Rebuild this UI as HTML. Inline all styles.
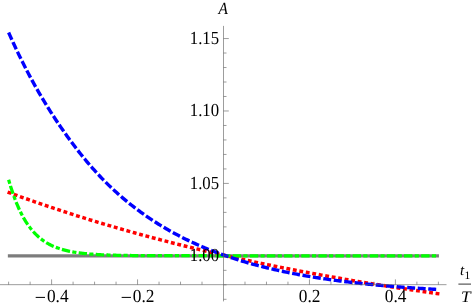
<!DOCTYPE html>
<html><head><meta charset="utf-8"><title>plot</title>
<style>
html,body{margin:0;padding:0;background:#fff;}
body{width:474px;height:306px;overflow:hidden;font-family:"Liberation Serif",serif;}
svg{display:block;will-change:transform;}
</style></head><body>
<svg width="474" height="306" viewBox="0 0 474 306">
<rect width="474" height="306" fill="#fff"/>
<g fill="none" stroke-width="3.25" stroke-linecap="butt" stroke-linejoin="round">
<path d="M7.85 255.75 L438.95 255.75" stroke="#7c7c7c"/>
<path d="M7.60 192.06 L10.62 193.17 L13.64 194.28 L16.66 195.37 L19.68 196.46 L22.70 197.55 L25.72 198.62 L28.74 199.69 L31.76 200.75 L34.78 201.80 L37.80 202.84 L40.82 203.88 L43.83 204.91 L46.85 205.94 L49.87 206.95 L52.89 207.96 L55.91 208.97 L58.93 209.96 L61.95 210.95 L64.97 211.94 L67.99 212.91 L71.01 213.88 L74.03 214.85 L77.05 215.80 L80.07 216.75 L83.09 217.70 L86.11 218.63 L89.13 219.56 L92.15 220.49 L95.17 221.41 L98.19 222.32 L101.21 223.22 L104.23 224.12 L107.25 225.02 L110.27 225.90 L113.29 226.79 L116.30 227.66 L119.32 228.53 L122.34 229.39 L125.36 230.25 L128.38 231.10 L131.40 231.95 L134.42 232.79 L137.44 233.62 L140.46 234.45 L143.48 235.27 L146.50 236.09 L149.52 236.90 L152.54 237.71 L155.56 238.51 L158.58 239.31 L161.60 240.10 L164.62 240.88 L167.64 241.66 L170.66 242.43 L173.68 243.20 L176.70 243.97 L179.72 244.72 L182.74 245.48 L185.76 246.23 L188.77 246.97 L191.79 247.71 L194.81 248.44 L197.83 249.17 L200.85 249.89 L203.87 250.61 L206.89 251.32 L209.91 252.03 L212.93 252.73 L215.95 253.43 L218.97 254.12 L221.99 254.81 L225.01 255.50 L228.03 256.18 L231.05 256.85 L234.07 257.52 L237.09 258.19 L240.11 258.85 L243.13 259.51 L246.15 260.16 L249.17 260.81 L252.19 261.45 L255.21 262.09 L258.23 262.73 L261.24 263.36 L264.26 263.98 L267.28 264.60 L270.30 265.22 L273.32 265.84 L276.34 266.44 L279.36 267.05 L282.38 267.65 L285.40 268.25 L288.42 268.84 L291.44 269.43 L294.46 270.01 L297.48 270.60 L300.50 271.17 L303.52 271.75 L306.54 272.31 L309.56 272.88 L312.58 273.44 L315.60 274.00 L318.62 274.55 L321.64 275.10 L324.66 275.65 L327.68 276.19 L330.70 276.73 L333.71 277.27 L336.73 277.80 L339.75 278.32 L342.77 278.85 L345.79 279.37 L348.81 279.89 L351.83 280.40 L354.85 280.91 L357.87 281.42 L360.89 281.92 L363.91 282.42 L366.93 282.92 L369.95 283.41 L372.97 283.90 L375.99 284.39 L379.01 284.87 L382.03 285.35 L385.05 285.83 L388.07 286.30 L391.09 286.77 L394.11 287.24 L397.13 287.70 L400.15 288.16 L403.17 288.62 L406.18 289.07 L409.20 289.52 L412.22 289.97 L415.24 290.42 L418.26 290.86 L421.28 291.30 L424.30 291.73 L427.32 292.17 L430.34 292.60 L433.36 293.02 L436.38 293.45 L439.40 293.87" stroke="#ff0000" stroke-width="3.5" stroke-dasharray="3.866 2.711"/>
<path d="M8.62 179.69 L9.63 183.15 L10.63 186.46 L11.63 189.61 L12.63 192.62 L13.63 195.50 L14.63 198.24 L15.63 200.85 L16.63 203.35 L17.63 205.74 L18.63 208.01 L19.63 210.19 L20.64 212.26 L21.64 214.24 L22.64 216.13 L23.64 217.93 L24.64 219.65 L25.64 221.30 L26.64 222.86 L27.64 224.36 L28.64 225.79 L29.64 227.15 L30.64 228.45 L31.65 229.70 L32.65 230.88 L33.65 232.01 L34.65 233.09 L35.65 234.13 L36.65 235.11 L37.65 236.05 L38.65 236.95 L39.65 237.80 L40.65 238.62 L41.65 239.40 L42.65 240.14 L43.66 240.85 L44.66 241.53 L45.66 242.18 L46.66 242.80 L47.66 243.38 L48.66 243.95 L49.66 244.48 L50.66 245.00 L51.66 245.49 L52.66 245.95 L53.66 246.40 L54.67 246.83 L55.67 247.23 L56.67 247.62 L57.67 247.99 L58.67 248.34 L59.67 248.68 L60.67 249.00 L61.67 249.31 L62.67 249.60 L63.67 249.88 L64.67 250.15 L65.68 250.40 L66.68 250.65 L67.68 250.88 L68.68 251.10 L69.68 251.31 L70.68 251.51 L71.68 251.71 L72.68 251.89 L73.68 252.07 L74.68 252.23 L75.68 252.39 L76.68 252.55 L77.69 252.69 L78.69 252.83 L79.69 252.96 L80.69 253.09 L81.69 253.21 L82.69 253.33 L83.69 253.44 L84.69 253.54 L85.69 253.64 L86.69 253.74 L87.69 253.83 L88.70 253.92 L89.70 254.00 L90.70 254.08 L91.70 254.16 L92.70 254.23 L93.70 254.30 L94.70 254.37 L95.70 254.43 L96.70 254.49 L97.70 254.55 L98.70 254.60 L99.70 254.65 L100.71 254.70 L101.71 254.75 L102.71 254.80 L103.71 254.84 L104.71 254.88 L105.71 254.92 L106.71 254.96 L107.71 254.99 L108.71 255.03 L109.71 255.06 L110.71 255.09 L111.72 255.12 L112.72 255.15 L113.72 255.18 L114.72 255.20 L115.72 255.23 L116.72 255.25 L117.72 255.28 L118.72 255.30 L119.72 255.32 L120.72 255.34 L121.72 255.36 L122.73 255.37 L123.73 255.39 L124.73 255.41 L125.73 255.42 L126.73 255.44 L127.73 255.45 L128.73 255.47 L129.73 255.48 L130.73 255.49 L131.73 255.50 L132.73 255.51 L133.73 255.52 L134.74 255.54 L135.74 255.54 L136.74 255.55 L137.74 255.56 L138.74 255.57 L139.74 255.58 L140.74 255.59 L141.74 255.59 L142.74 255.60 L143.74 255.61 L144.74 255.62 L145.75 255.62 L146.75 255.63 L147.75 255.63 L148.75 255.64 L149.75 255.64 L150.75 255.65 L151.75 255.65 L152.75 255.66 L153.75 255.66 L154.75 255.67 L155.75 255.67 L156.75 255.67 L157.76 255.68 L158.76 255.68 L159.76 255.68 L160.76 255.69 L161.76 255.69 L162.76 255.69 L163.76 255.69 L164.76 255.70 L165.76 255.70 L166.76 255.70 L167.76 255.70 L168.77 255.71 L169.77 255.71 L170.77 255.71 L171.77 255.71 L172.77 255.71 L173.77 255.72 L174.77 255.72 L175.77 255.72 L176.77 255.72 L177.77 255.72 L178.77 255.72 L179.78 255.72 L180.78 255.72 L181.78 255.73 L182.78 255.73 L183.78 255.73 L184.78 255.73 L185.78 255.73 L186.78 255.73 L187.78 255.73 L188.78 255.73 L189.78 255.73 L190.78 255.73 L191.79 255.73 L192.79 255.74 L193.79 255.74 L194.79 255.74 L195.79 255.74 L196.79 255.74 L197.79 255.74 L198.79 255.74 L199.79 255.74 L200.79 255.74 L201.79 255.74 L202.80 255.74 L203.80 255.74 L204.80 255.74 L205.80 255.74 L206.80 255.74 L207.80 255.74 L208.80 255.74 L209.80 255.74 L210.80 255.74 L211.80 255.74 L212.80 255.74 L213.81 255.74 L214.81 255.74 L215.81 255.75 L216.81 255.75 L217.81 255.75 L218.81 255.75 L219.81 255.75 L220.81 255.75 L221.81 255.75 L222.81 255.75 L223.81 255.75 L224.81 255.75 L225.82 255.75 L226.82 255.75 L227.82 255.75 L228.82 255.75 L229.82 255.75 L230.82 255.75 L231.82 255.75 L232.82 255.75 L233.82 255.75 L234.82 255.75 L235.82 255.75 L236.83 255.75 L237.83 255.75 L238.83 255.75 L239.83 255.75 L240.83 255.75 L241.83 255.75 L242.83 255.75 L243.83 255.75 L244.83 255.75 L245.83 255.75 L246.83 255.75 L247.83 255.75 L248.84 255.75 L249.84 255.75 L250.84 255.75 L251.84 255.75 L252.84 255.75 L253.84 255.75 L254.84 255.75 L255.84 255.75 L256.84 255.75 L257.84 255.75 L258.84 255.75 L259.85 255.75 L260.85 255.75 L261.85 255.75 L262.85 255.75 L263.85 255.75 L264.85 255.75 L265.85 255.75 L266.85 255.75 L267.85 255.75 L268.85 255.75 L269.85 255.75 L270.86 255.75 L271.86 255.75 L272.86 255.75 L273.86 255.75 L274.86 255.75 L275.86 255.75 L276.86 255.75 L277.86 255.75 L278.86 255.75 L279.86 255.75 L280.86 255.75 L281.86 255.75 L282.87 255.75 L283.87 255.75 L284.87 255.75 L285.87 255.75 L286.87 255.75 L287.87 255.75 L288.87 255.75 L289.87 255.75 L290.87 255.75 L291.87 255.75 L292.87 255.75 L293.88 255.75 L294.88 255.75 L295.88 255.75 L296.88 255.75 L297.88 255.75 L298.88 255.75 L299.88 255.75 L300.88 255.75 L301.88 255.75 L302.88 255.75 L303.88 255.75 L304.88 255.75 L305.89 255.75 L306.89 255.75 L307.89 255.75 L308.89 255.75 L309.89 255.75 L310.89 255.75 L311.89 255.75 L312.89 255.75 L313.89 255.75 L314.89 255.75 L315.89 255.75 L316.90 255.75 L317.90 255.75 L318.90 255.75 L319.90 255.75 L320.90 255.75 L321.90 255.75 L322.90 255.75 L323.90 255.75 L324.90 255.75 L325.90 255.75 L326.90 255.75 L327.91 255.75 L328.91 255.75 L329.91 255.75 L330.91 255.75 L331.91 255.75 L332.91 255.75 L333.91 255.75 L334.91 255.75 L335.91 255.75 L336.91 255.75 L337.91 255.75 L338.91 255.75 L339.92 255.75 L340.92 255.75 L341.92 255.75 L342.92 255.75 L343.92 255.75 L344.92 255.75 L345.92 255.75 L346.92 255.75 L347.92 255.75 L348.92 255.75 L349.92 255.75 L350.93 255.75 L351.93 255.75 L352.93 255.75 L353.93 255.75 L354.93 255.75 L355.93 255.75 L356.93 255.75 L357.93 255.75 L358.93 255.75 L359.93 255.75 L360.93 255.75 L361.94 255.75 L362.94 255.75 L363.94 255.75 L364.94 255.75 L365.94 255.75 L366.94 255.75 L367.94 255.75 L368.94 255.75 L369.94 255.75 L370.94 255.75 L371.94 255.75 L372.94 255.75 L373.95 255.75 L374.95 255.75 L375.95 255.75 L376.95 255.75 L377.95 255.75 L378.95 255.75 L379.95 255.75 L380.95 255.75 L381.95 255.75 L382.95 255.75 L383.95 255.75 L384.96 255.75 L385.96 255.75 L386.96 255.75 L387.96 255.75 L388.96 255.75 L389.96 255.75 L390.96 255.75 L391.96 255.75 L392.96 255.75 L393.96 255.75 L394.96 255.75 L395.96 255.75 L396.97 255.75 L397.97 255.75 L398.97 255.75 L399.97 255.75 L400.97 255.75 L401.97 255.75 L402.97 255.75 L403.97 255.75 L404.97 255.75 L405.97 255.75 L406.97 255.75 L407.98 255.75 L408.98 255.75 L409.98 255.75 L410.98 255.75 L411.98 255.75 L412.98 255.75 L413.98 255.75 L414.98 255.75 L415.98 255.75 L416.98 255.75 L417.98 255.75 L418.99 255.75 L419.99 255.75 L420.99 255.75 L421.99 255.75 L422.99 255.75 L423.99 255.75 L424.99 255.75 L425.99 255.75 L426.99 255.75 L427.99 255.75 L428.99 255.75 L429.99 255.75 L431.00 255.75 L432.00 255.75 L433.00 255.75 L434.00 255.75 L435.00 255.75 L436.00 255.75" stroke="#00ff00" stroke-dasharray="4.157 2.304 8.365 2.304"/>
<path d="M8.62 32.48 L10.13 35.87 L11.63 39.20 L13.13 42.50 L14.63 45.74 L16.13 48.95 L17.63 52.11 L19.13 55.22 L20.63 58.30 L22.13 61.33 L23.63 64.32 L25.13 67.26 L26.63 70.17 L28.13 73.04 L29.63 75.87 L31.13 78.66 L32.63 81.41 L34.13 84.13 L35.63 86.80 L37.13 89.45 L38.63 92.06 L40.13 94.63 L41.63 97.18 L43.13 99.69 L44.63 102.17 L46.13 104.62 L47.63 107.04 L49.13 109.43 L50.63 111.79 L52.13 114.13 L53.63 116.44 L55.13 118.72 L56.63 120.98 L58.13 123.22 L59.63 125.43 L61.13 127.61 L62.63 129.78 L64.13 131.92 L65.63 134.04 L67.14 136.13 L68.64 138.20 L70.14 140.26 L71.64 142.28 L73.14 144.29 L74.64 146.27 L76.14 148.23 L77.64 150.17 L79.14 152.09 L80.64 153.98 L82.14 155.85 L83.64 157.70 L85.14 159.52 L86.64 161.32 L88.14 163.10 L89.64 164.86 L91.14 166.59 L92.64 168.30 L94.14 169.98 L95.64 171.64 L97.14 173.28 L98.64 174.90 L100.14 176.49 L101.64 178.06 L103.14 179.61 L104.64 181.14 L106.14 182.65 L107.64 184.13 L109.14 185.60 L110.64 187.04 L112.14 188.46 L113.64 189.87 L115.14 191.25 L116.64 192.61 L118.14 193.96 L119.64 195.29 L121.14 196.59 L122.64 197.89 L124.15 199.16 L125.65 200.41 L127.15 201.65 L128.65 202.87 L130.15 204.08 L131.65 205.27 L133.15 206.44 L134.65 207.60 L136.15 208.74 L137.65 209.87 L139.15 210.98 L140.65 212.08 L142.15 213.17 L143.65 214.23 L145.15 215.29 L146.65 216.33 L148.15 217.36 L149.65 218.38 L151.15 219.38 L152.65 220.37 L154.15 221.34 L155.65 222.30 L157.15 223.26 L158.65 224.19 L160.15 225.12 L161.65 226.03 L163.15 226.94 L164.65 227.83 L166.15 228.71 L167.65 229.57 L169.15 230.43 L170.65 231.28 L172.15 232.11 L173.65 232.93 L175.15 233.75 L176.65 234.55 L178.15 235.34 L179.66 236.12 L181.16 236.90 L182.66 237.66 L184.16 238.41 L185.66 239.15 L187.16 239.89 L188.66 240.61 L190.16 241.32 L191.66 242.03 L193.16 242.72 L194.66 243.41 L196.16 244.09 L197.66 244.76 L199.16 245.42 L200.66 246.07 L202.16 246.71 L203.66 247.35 L205.16 247.97 L206.66 248.59 L208.16 249.20 L209.66 249.81 L211.16 250.40 L212.66 250.99 L214.16 251.57 L215.66 252.14 L217.16 252.70 L218.66 253.26 L220.16 253.81 L221.66 254.36 L223.16 254.89 L224.66 255.42 L226.16 255.94 L227.66 256.46 L229.16 256.97 L230.66 257.47 L232.16 257.97 L233.66 258.46 L235.16 258.94 L236.66 259.42 L238.17 259.89 L239.67 260.35 L241.17 260.81 L242.67 261.26 L244.17 261.71 L245.67 262.15 L247.17 262.59 L248.67 263.02 L250.17 263.44 L251.67 263.86 L253.17 264.27 L254.67 264.68 L256.17 265.08 L257.67 265.48 L259.17 265.87 L260.67 266.26 L262.17 266.64 L263.67 267.02 L265.17 267.39 L266.67 267.76 L268.17 268.12 L269.67 268.48 L271.17 268.83 L272.67 269.18 L274.17 269.53 L275.67 269.87 L277.17 270.20 L278.67 270.53 L280.17 270.86 L281.67 271.18 L283.17 271.50 L284.67 271.82 L286.17 272.13 L287.67 272.43 L289.17 272.74 L290.67 273.03 L292.17 273.33 L293.67 273.62 L295.18 273.91 L296.68 274.19 L298.18 274.47 L299.68 274.75 L301.18 275.02 L302.68 275.29 L304.18 275.55 L305.68 275.81 L307.18 276.07 L308.68 276.33 L310.18 276.58 L311.68 276.83 L313.18 277.08 L314.68 277.32 L316.18 277.56 L317.68 277.79 L319.18 278.03 L320.68 278.26 L322.18 278.48 L323.68 278.71 L325.18 278.93 L326.68 279.15 L328.18 279.36 L329.68 279.58 L331.18 279.79 L332.68 279.99 L334.18 280.20 L335.68 280.40 L337.18 280.60 L338.68 280.80 L340.18 280.99 L341.68 281.18 L343.18 281.37 L344.68 281.56 L346.18 281.74 L347.68 281.92 L349.18 282.10 L350.69 282.28 L352.19 282.46 L353.69 282.63 L355.19 282.80 L356.69 282.97 L358.19 283.13 L359.69 283.30 L361.19 283.46 L362.69 283.62 L364.19 283.78 L365.69 283.93 L367.19 284.09 L368.69 284.24 L370.19 284.39 L371.69 284.54 L373.19 284.68 L374.69 284.83 L376.19 284.97 L377.69 285.11 L379.19 285.25 L380.69 285.38 L382.19 285.52 L383.69 285.65 L385.19 285.78 L386.69 285.91 L388.19 286.04 L389.69 286.17 L391.19 286.29 L392.69 286.42 L394.19 286.54 L395.69 286.66 L397.19 286.78 L398.69 286.89 L400.19 287.01 L401.69 287.12 L403.19 287.24 L404.69 287.35 L406.19 287.46 L407.69 287.56 L409.20 287.67 L410.70 287.78 L412.20 287.88 L413.70 287.98 L415.20 288.08 L416.70 288.18 L418.20 288.28 L419.70 288.38 L421.20 288.48 L422.70 288.57 L424.20 288.67 L425.70 288.76 L427.20 288.85 L428.70 288.94 L430.20 289.03 L431.70 289.12 L433.20 289.20 L434.70 289.29 L436.20 289.37" stroke="#0000ff" stroke-width="3.4" stroke-dasharray="7.971 2.574"/>
</g>
<g stroke="#606060" stroke-width="0.62" fill="none">
<line x1="0" y1="284.67" x2="446.5" y2="284.67"/>
<line x1="223.50" y1="25.9" x2="223.50" y2="301.4"/>
<line x1="8.62" y1="284.67" x2="8.62" y2="281.67"/>
<line x1="30.11" y1="284.67" x2="30.11" y2="281.67"/>
<line x1="51.60" y1="284.67" x2="51.60" y2="279.37"/>
<line x1="73.09" y1="284.67" x2="73.09" y2="281.67"/>
<line x1="94.57" y1="284.67" x2="94.57" y2="281.67"/>
<line x1="116.06" y1="284.67" x2="116.06" y2="281.67"/>
<line x1="137.55" y1="284.67" x2="137.55" y2="279.37"/>
<line x1="159.04" y1="284.67" x2="159.04" y2="281.67"/>
<line x1="180.53" y1="284.67" x2="180.53" y2="281.67"/>
<line x1="202.01" y1="284.67" x2="202.01" y2="281.67"/>
<line x1="244.99" y1="284.67" x2="244.99" y2="281.67"/>
<line x1="266.48" y1="284.67" x2="266.48" y2="281.67"/>
<line x1="287.96" y1="284.67" x2="287.96" y2="281.67"/>
<line x1="309.45" y1="284.67" x2="309.45" y2="279.37"/>
<line x1="330.94" y1="284.67" x2="330.94" y2="281.67"/>
<line x1="352.43" y1="284.67" x2="352.43" y2="281.67"/>
<line x1="373.91" y1="284.67" x2="373.91" y2="281.67"/>
<line x1="395.40" y1="284.67" x2="395.40" y2="279.37"/>
<line x1="416.89" y1="284.67" x2="416.89" y2="281.67"/>
<line x1="438.38" y1="284.67" x2="438.38" y2="281.67"/>
<line x1="223.50" y1="299.31" x2="226.50" y2="299.31"/>
<line x1="223.50" y1="284.82" x2="226.50" y2="284.82"/>
<line x1="223.50" y1="270.34" x2="226.50" y2="270.34"/>
<line x1="223.50" y1="255.85" x2="228.80" y2="255.85"/>
<line x1="223.50" y1="241.36" x2="226.50" y2="241.36"/>
<line x1="223.50" y1="226.88" x2="226.50" y2="226.88"/>
<line x1="223.50" y1="212.39" x2="226.50" y2="212.39"/>
<line x1="223.50" y1="197.90" x2="226.50" y2="197.90"/>
<line x1="223.50" y1="183.41" x2="228.80" y2="183.41"/>
<line x1="223.50" y1="168.93" x2="226.50" y2="168.93"/>
<line x1="223.50" y1="154.44" x2="226.50" y2="154.44"/>
<line x1="223.50" y1="139.95" x2="226.50" y2="139.95"/>
<line x1="223.50" y1="125.47" x2="226.50" y2="125.47"/>
<line x1="223.50" y1="110.98" x2="228.80" y2="110.98"/>
<line x1="223.50" y1="96.49" x2="226.50" y2="96.49"/>
<line x1="223.50" y1="82.01" x2="226.50" y2="82.01"/>
<line x1="223.50" y1="67.52" x2="226.50" y2="67.52"/>
<line x1="223.50" y1="53.03" x2="226.50" y2="53.03"/>
<line x1="223.50" y1="38.55" x2="228.80" y2="38.55"/>
</g>
<g class="tx" text-rendering="geometricPrecision" font-family="Liberation Serif, serif" font-size="17px" fill="#000">
<text transform="translate(46.90 301.80) scale(1.020 1.090)" text-anchor="start">0.4</text>
<line x1="35.70" y1="297.40" x2="45.00" y2="297.40" stroke="#000" stroke-width="1"/>
<text transform="translate(132.85 301.80) scale(1.020 1.090)" text-anchor="start">0.2</text>
<line x1="121.65" y1="297.40" x2="130.95" y2="297.40" stroke="#000" stroke-width="1"/>
<text transform="translate(309.65 301.80) scale(1.020 1.090)" text-anchor="middle">0.2</text>
<text transform="translate(395.60 301.80) scale(1.020 1.090)" text-anchor="middle">0.4</text>
<text transform="translate(219.10 261.05) scale(0.985 1.090)" text-anchor="end">1.00</text>
<text transform="translate(219.10 188.61) scale(0.985 1.090)" text-anchor="end">1.05</text>
<text transform="translate(219.10 116.18) scale(0.985 1.090)" text-anchor="end">1.10</text>
<text transform="translate(219.10 43.75) scale(0.985 1.090)" text-anchor="end">1.15</text>
<text transform="translate(223.10 13.8) scale(0.9 1)" text-anchor="middle" font-style="italic">A</text>
<text x="462.0" y="275.2" text-anchor="middle" font-style="italic" font-size="15px">t</text>
<text x="467.3" y="278.5" text-anchor="middle" font-size="11.5px">1</text>
<text transform="translate(465.7 301.7) scale(1.08 1.0)" text-anchor="middle" font-style="italic" font-size="16px">T</text>
</g>
<line x1="458.4" y1="284.1" x2="471" y2="284.1" stroke="#000" stroke-width="0.8"/>
</svg>
</body></html>
